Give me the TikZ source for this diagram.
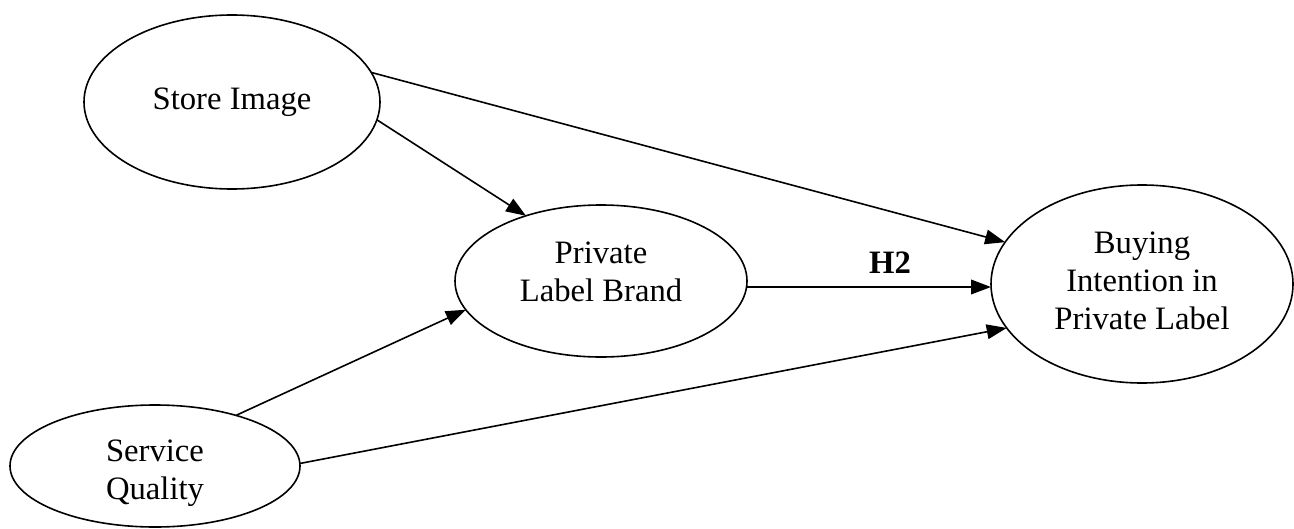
\documentclass[tikz,border=0pt]{standalone}
\usepackage{fontspec}
\setmainfont{Liberation Serif}
\usetikzlibrary{shapes.geometric,arrows.meta}
\begin{document}
\begin{tikzpicture}[x=0.75pt,y=-0.75pt,
  construct/.style={draw,ellipse,inner sep=0pt,outer sep=0pt,line width=1.2pt},
  lbl/.style={align=center,font=\fontsize{24.5}{28.5}\selectfont,inner sep=0pt},
  arr/.style={line width=1.2pt,-{Triangle[length=15pt,width=11pt]}}]
\useasboundingbox (0,0) rectangle (1294,528);
\node[construct,minimum width=222pt,minimum height=130.5pt] (si) at (232,102) {};
\node[construct,minimum width=219pt,minimum height=114pt] (pl) at (601,281) {};
\node[construct,minimum width=226.5pt,minimum height=148.5pt] (bi) at (1142,284) {};
\node[construct,minimum width=217.5pt,minimum height=91.5pt] (sq) at (155,466) {};
\node[lbl] (sit) at (232,102) {Store Image};
\node[lbl] (plt) at (601,272) {Private\\Label Brand};
\node[lbl] (bit) at (1142,281) {Buying\\Intention in\\Private Label};
\node[lbl] (sqt) at (155,473) {Service\\Quality};
\node[lbl,font=\fontsize{24.5}{28.5}\selectfont\bfseries] (h2) at (890,263) {H2};
\draw[arr] (si.12) -- (bi.163);
\draw[arr] (si.-7.5) -- (pl.139);
\coordinate (plo) at (747,287);
\draw[arr] (plo) -- (plo -| bi.west);
\draw[arr] (sq.32) -- (pl.192);
\draw[arr] (sq.1) -- (bi.198.6);
\end{tikzpicture}
\end{document}
